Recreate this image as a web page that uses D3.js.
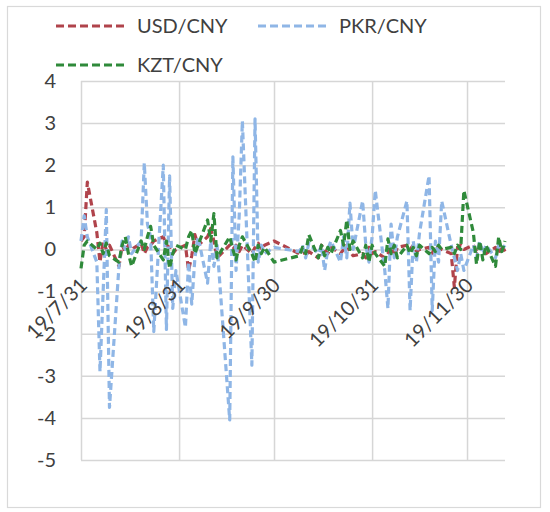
<!DOCTYPE html>
<html><head><meta charset="utf-8">
<script src="https://cdn.jsdelivr.net/npm/d3@7"></script>
<style>body{margin:0;background:#fff}svg text{font-family:Lato,"Noto Sans",sans-serif;fill:#404040}</style>
</head><body>
<svg id="c" width="550" height="512"></svg>
<script>
const dates = [
"2019-07-31",
"2019-08-01","2019-08-02","2019-08-05","2019-08-06","2019-08-07","2019-08-08","2019-08-09","2019-08-12","2019-08-13","2019-08-14","2019-08-15","2019-08-16","2019-08-19","2019-08-20","2019-08-21","2019-08-22","2019-08-23","2019-08-26","2019-08-27","2019-08-28","2019-08-29","2019-08-30",
"2019-09-02","2019-09-03","2019-09-04","2019-09-05","2019-09-06","2019-09-09","2019-09-10","2019-09-11","2019-09-12","2019-09-16","2019-09-17","2019-09-18","2019-09-19","2019-09-20","2019-09-23","2019-09-24","2019-09-25","2019-09-26","2019-09-27","2019-09-30",
"2019-10-08","2019-10-09","2019-10-10","2019-10-11","2019-10-14","2019-10-15","2019-10-16","2019-10-17","2019-10-18","2019-10-21","2019-10-22","2019-10-23","2019-10-24","2019-10-25","2019-10-28","2019-10-29","2019-10-30","2019-10-31",
"2019-11-01","2019-11-04","2019-11-05","2019-11-06","2019-11-07","2019-11-08","2019-11-11","2019-11-12","2019-11-13","2019-11-14","2019-11-15","2019-11-18","2019-11-19","2019-11-20","2019-11-21","2019-11-22","2019-11-25","2019-11-26","2019-11-27","2019-11-28","2019-11-29",
"2019-12-02","2019-12-03","2019-12-04","2019-12-05","2019-12-06","2019-12-09","2019-12-10","2019-12-11","2019-12-12"];

const usdCny = [0.2,
0.3,1.6,0.4,-0.3,0.2,0.0,0.1,-0.4,0.1,-0.05,0.1,0.0,0.15,-0.1,0.05,0.1,0.2,0.3,0.1,0.05,-0.1,0.0,
0.1,-0.5,-0.15,0.35,0.1,0.3,0.5,0.2,-0.2,0.1,0.0,0.1,-0.05,0.1,-0.1,0.05,0.15,0.0,0.1,0.2,
-0.1,0.0,-0.15,-0.05,-0.2,0.1,0.0,-0.1,0.05,-0.1,0.0,0.1,-0.05,-0.15,-0.1,-0.2,0.05,-0.1,
-0.05,-0.2,-0.1,0.1,-0.15,0.05,0.1,0.0,0.1,-0.05,0.0,0.05,-0.1,0.1,0.05,0.0,-0.1,-0.9,0.05,0.1,0.0,
0.1,-0.05,0.1,0.0,-0.1,0.05,-0.1,0.1,-0.05];

const pkrCny = [0.2,
0.8,0.3,-0.3,-2.9,-1.0,0.95,-3.75,-0.4,0.2,0.0,0.3,-0.1,0.2,2.05,0.6,0.3,-1.95,2.0,-1.9,1.75,-1.4,-0.5,
-1.85,-0.3,-1.3,-0.2,0.3,-0.8,0.2,-0.4,0.1,-4.05,2.2,-0.5,0.8,3.05,-2.75,3.1,-0.3,0.1,-0.1,0.05,
-0.05,0.1,-0.2,0.15,-0.1,0.1,-0.5,0.0,0.2,-0.3,0.3,-0.2,1.1,0.0,1.15,0.1,-0.3,0.3,
1.4,-0.5,-1.4,0.6,-0.2,0.3,1.15,-1.45,0.2,-0.3,0.4,1.75,-1.45,0.2,-0.3,1.15,0.1,-0.2,-0.5,-0.1,-0.5,
0.1,-0.2,0.2,-0.1,0.1,-0.2,0.1,0.0,0.1];

const kztCny = [-0.45,
0.1,0.2,0.0,0.15,-0.1,0.15,-0.15,-0.3,0.1,0.3,-0.1,-0.4,0.2,0.0,0.3,0.55,0.1,-0.25,0.2,-0.45,-0.1,0.1,
0.0,0.3,0.45,-0.1,0.1,0.7,0.2,0.85,-0.2,0.3,0.0,-0.25,0.1,0.3,-0.1,-0.3,0.1,-0.1,0.05,-0.3,
-0.15,0.05,-0.1,0.35,-0.2,0.1,-0.15,0.05,-0.1,0.45,0.1,0.7,0.0,0.2,-0.2,0.1,-0.3,0.1,
-0.1,-0.4,0.25,-0.1,0.1,-0.2,0.1,-0.1,0.05,-0.15,0.1,-0.1,0.05,-0.05,0.1,0.0,0.05,-0.1,0.1,0.0,1.4,
0.4,-0.35,0.2,-0.25,0.1,-0.4,0.3,-0.05,0.2];

const seriesNames = ["USD/CNY","PKR/CNY","KZT/CNY"];
const seriesColors = ["#b0434b","#8fb6e6","#2f8a3a"];
const yTicks = [4,3,2,1,0,-1,-2,-3,-4,-5];
const xTickDates = ["2019-07-31","2019-08-31","2019-09-30","2019-10-31","2019-11-30"];
const xTickLabels = ["19/7/31","19/8/31","19/9/30","19/10/31","19/11/30"];

const parse = d3.timeParse("%Y-%m-%d");
const svg = d3.select("#c");
const L = 81, R = 505, T = 81, B = 460;

svg.append("rect").attr("x",7.5).attr("y",6.5).attr("width",533).attr("height",501)
  .attr("fill","#fff").attr("stroke","#d9d9d9").attr("stroke-width",1.2);

const x = d3.scaleTime().domain([parse("2019-07-31"), parse("2019-12-12")]).range([L,R]);
const y = d3.scaleLinear().domain([-5,4]).range([B,T]);

// horizontal gridlines
const gy = svg.append("g").attr("transform",`translate(${L},0)`)
  .call(d3.axisLeft(y).tickValues(yTicks).tickSize(-(R-L)).tickFormat(""));
gy.select(".domain").remove();
gy.selectAll("line").attr("stroke","#d6d6d6").attr("stroke-width",1.5);

// vertical gridlines
const gx = svg.append("g").attr("transform",`translate(0,${B})`)
  .call(d3.axisBottom(x).tickValues(xTickDates.map(parse)).tickSize(-(B-T)).tickFormat(""));
gx.select(".domain").remove();
gx.selectAll("line").attr("stroke","#d6d6d6").attr("stroke-width",1.5);

// y labels
const yl = svg.append("g").attr("transform",`translate(${L},0)`)
  .call(d3.axisLeft(y).tickValues(yTicks).tickSize(0).tickPadding(25).tickFormat(d=>String(d)));
yl.select(".domain").remove();
yl.selectAll("text").attr("font-size","20px").attr("fill","#404040").style("font-family","Lato");

// lines
const data = [usdCny, pkrCny, kztCny];
const line = d3.line().x((d,i)=>x(parse(dates[i]))).y(d=>y(d));
data.forEach((vals,k)=>{
  svg.append("path").datum(vals).attr("d",line).attr("fill","none")
    .attr("stroke",seriesColors[k]).attr("stroke-width",3.2)
    .attr("stroke-dasharray","7,4").attr("stroke-linejoin","round");
});

// x labels (axis crosses at 0)
const xl = svg.append("g").attr("transform",`translate(0,${y(0)})`)
  .call(d3.axisBottom(x).tickValues(xTickDates.map(parse)).tickSize(0)
    .tickFormat((d,i)=>xTickLabels[i]));
xl.select(".domain").remove();
xl.selectAll("text").attr("font-size","20px").attr("fill","#404040").style("font-family","Lato")
  .attr("text-anchor","end").attr("dy",null).attr("y",null)
  .attr("transform","translate(7,37) rotate(-45)");

// legend
const leg = [{k:0,x:56,y:26},{k:1,x:258,y:26},{k:2,x:56,y:65}];
leg.forEach(l=>{
  svg.append("line").attr("x1",l.x).attr("x2",l.x+70).attr("y1",l.y).attr("y2",l.y)
    .attr("stroke",seriesColors[l.k]).attr("stroke-width",3).attr("stroke-dasharray","8,4");
  svg.append("text").attr("x",l.x+81).attr("y",l.y+7).attr("font-size","20px")
    .text(seriesNames[l.k]);
});
</script>
</body></html>
